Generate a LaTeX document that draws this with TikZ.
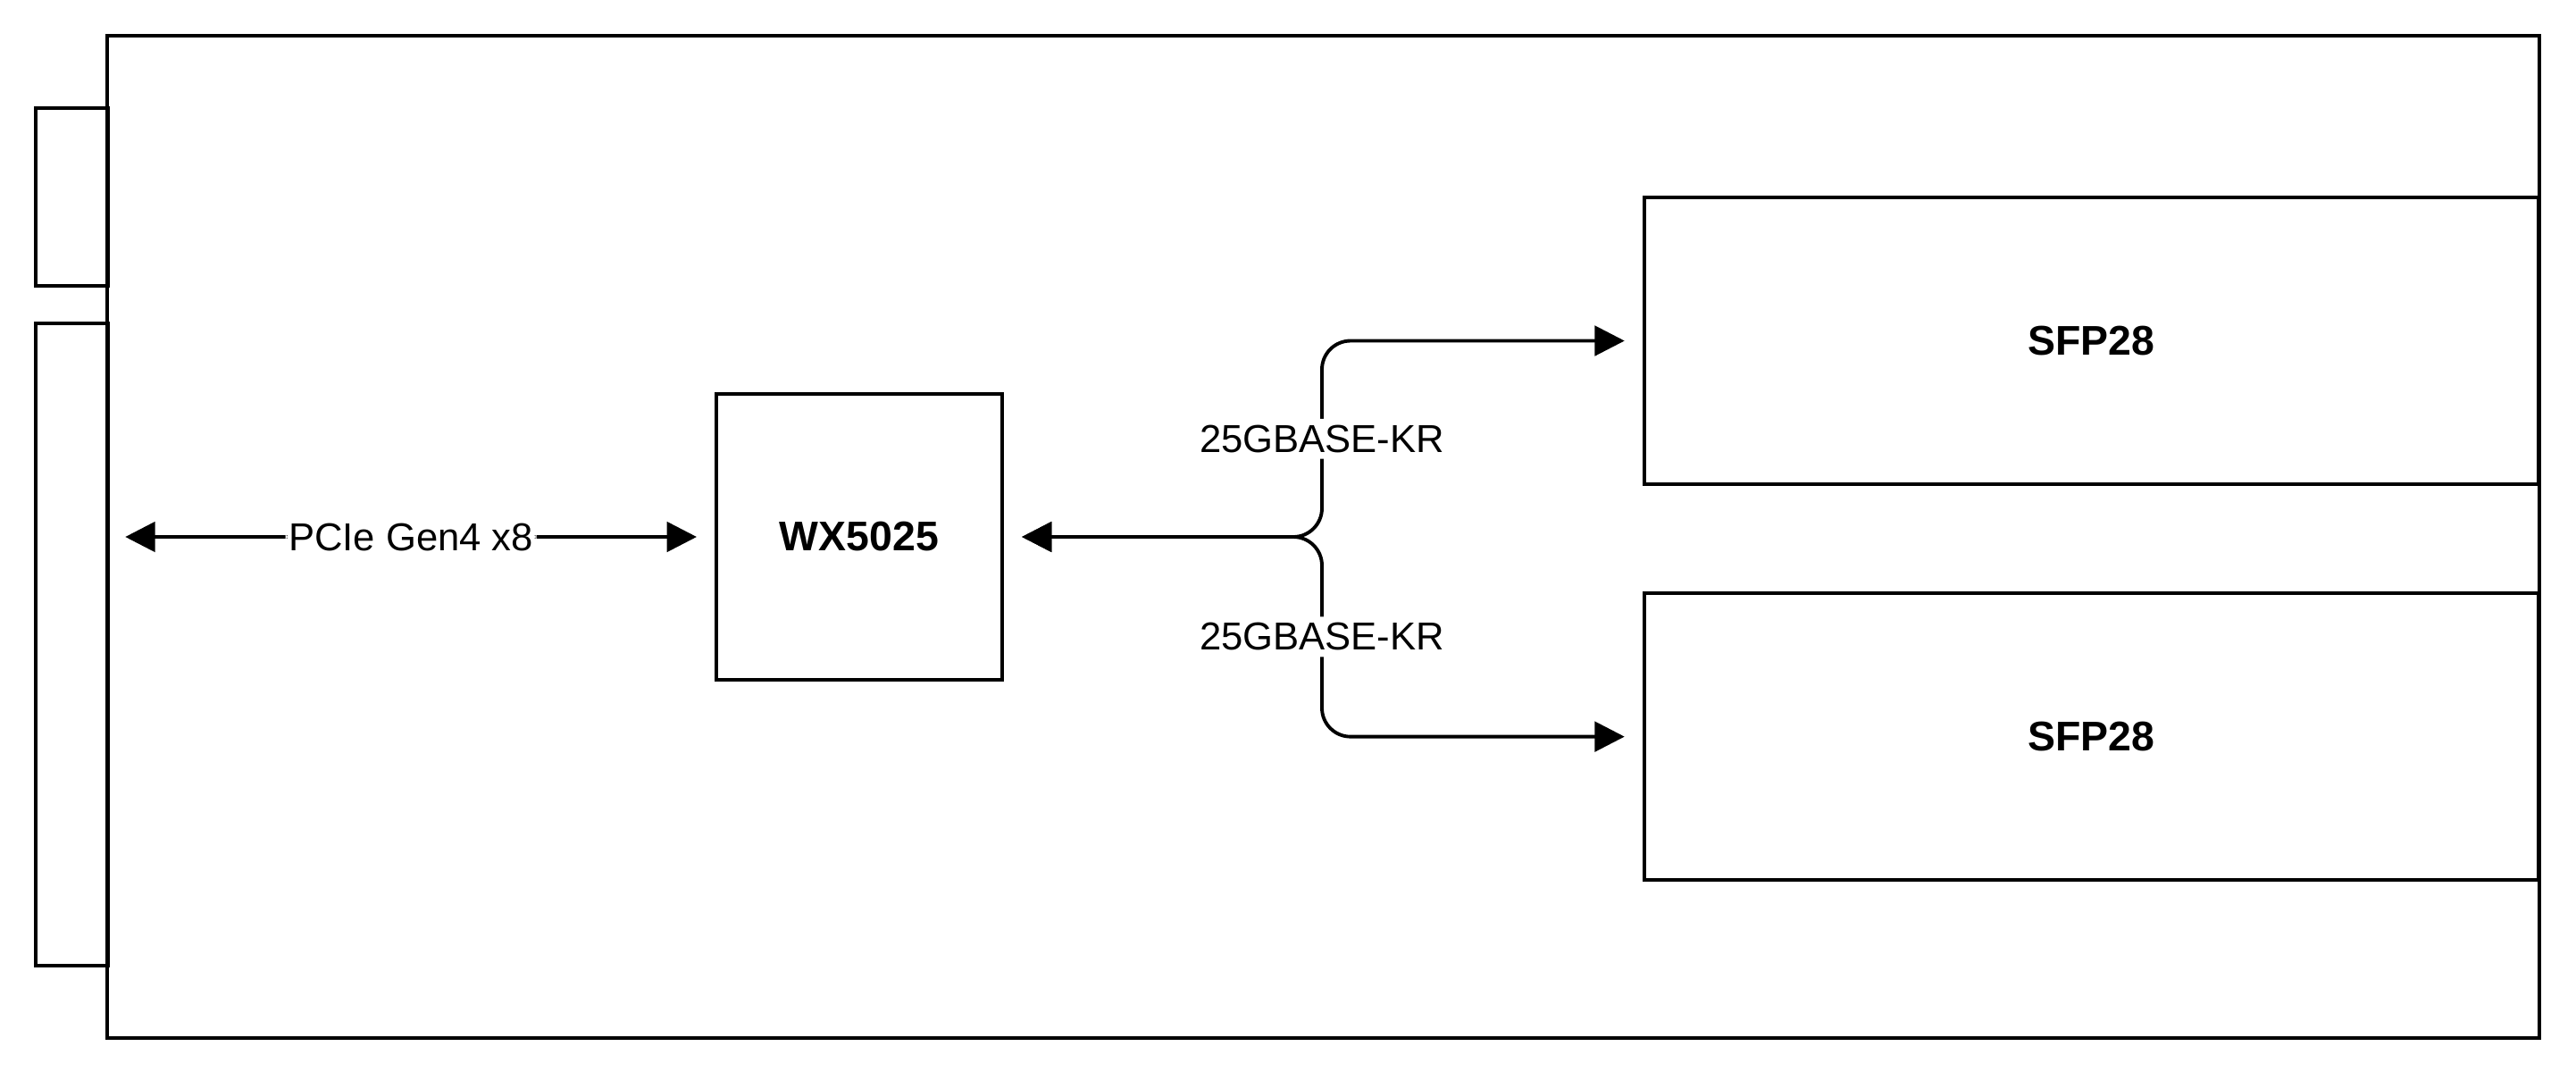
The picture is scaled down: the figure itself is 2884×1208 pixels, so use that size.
\documentclass[tikz,border=0pt]{standalone}
\usepackage{fontspec}
\setmainfont{Liberation Sans}
\usetikzlibrary{arrows.meta,positioning,calc}
\tikzset{card/.style={
            draw,
            line width=1.1pt,
            inner sep=0pt
        },
        chip/.style={
            draw,
            line width=1.1pt,
            inner sep=0pt,
            minimum width=3.2cm,
            minimum height=3.2cm,
            font=\fontsize{13.2}{15}\selectfont\bfseries
        },
        port/.style={
            draw,
            line width=1.1pt,
            inner sep=0pt,
            minimum width=10.01cm,
            minimum height=3.21cm,
            font=\fontsize{13.2}{15}\selectfont\bfseries
        },
        link/.style={
            line width=1.1pt,
            {Triangle[length=9.5pt,width=9.5pt]}-{Triangle[length=9.5pt,width=9.5pt]},
            rounded corners=0.32cm
        },
        linklabel/.style={
            fill=white,
            inner xsep=1pt,
            inner ysep=2pt,
            font=\fontsize{12.4}{14}\selectfont
        }
    }

\begin{document}
\begin{tikzpicture}[x=0.01cm, y=-0.01cm]
        \useasboundingbox (0,0) rectangle (2884,1208);

        % card outline and bracket
        \node[card, minimum width=27.21cm, minimum height=11.22cm] at (1481.5,601) (board) {};
        \draw[card] (40,121) rectangle (121,320);
        \draw[card] (40,362) rectangle (121,1081);

        \node[chip] at (962,601) (wx) {WX5025};
        \node[port] at (2341.5,381.5) (sfpA) {SFP28};
        \node[port, below=1.18cm of sfpA] (sfpB) {SFP28};
        \coordinate (fork) at (1480,601);

        \draw[link] ([xshift=0.22cm]board.west) -- ([xshift=-0.2cm]wx.west)
            node[linklabel, midway] {PCIe Gen4 x8};
        \draw[link] ([xshift=0.2cm]wx.east) -- (fork) -- (fork |- sfpA.west)
            node[linklabel, midway] {25GBASE-KR} -- ([xshift=-0.2cm]sfpA.west);
        \draw[link] ([xshift=0.2cm]wx.east) -- (fork) -- (fork |- sfpB.west)
            node[linklabel, midway] {25GBASE-KR} -- ([xshift=-0.2cm]sfpB.west);

    \end{tikzpicture}
\end{document}
